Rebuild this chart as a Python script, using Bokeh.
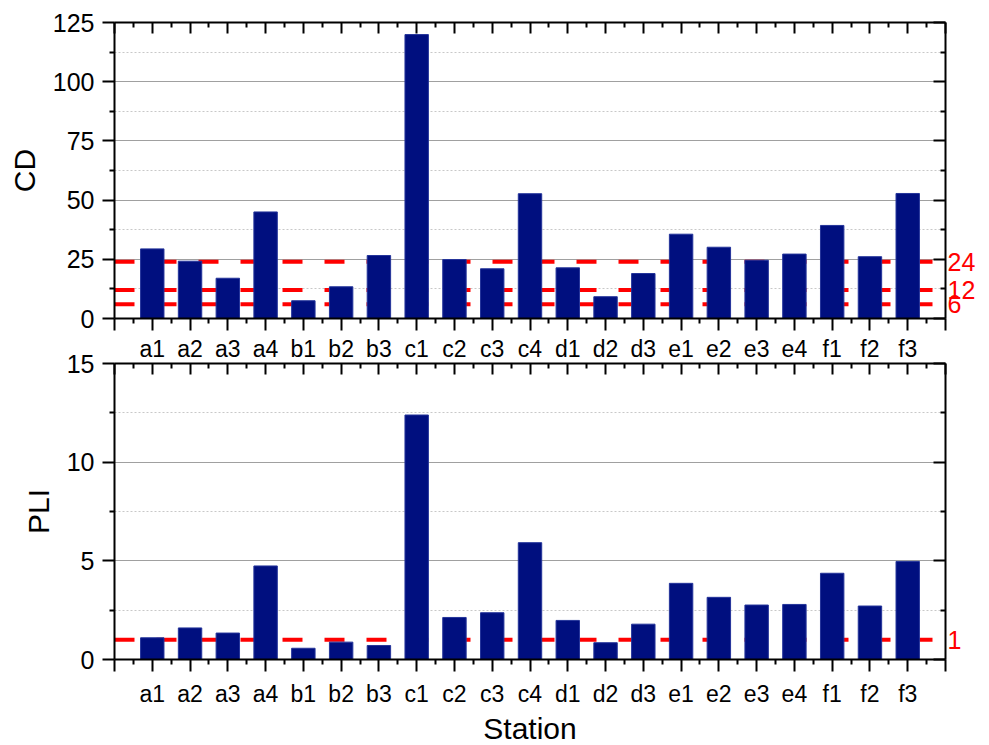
from bokeh.plotting import figure
from bokeh.models import (Range1d, FixedTicker, LinearAxis, Span, ColumnDataSource,
                          CustomLabelingPolicy)
from bokeh.layouts import column
from bokeh.embed import file_html
from bokeh.resources import INLINE

# Sampling stations and the two pollution indices
stations = ["a1", "a2", "a3", "a4", "b1", "b2", "b3", "c1", "c2", "c3", "c4",
            "d1", "d2", "d3", "e1", "e2", "e3", "e4", "f1", "f2", "f3"]
cd_values = [29.4, 24.2, 17.0, 45.0, 7.5, 13.4, 26.6, 119.9, 24.9, 21.0, 52.7,
             21.4, 9.2, 19.0, 35.6, 30.1, 24.6, 27.2, 39.3, 26.1, 52.8]
pli_values = [1.10, 1.60, 1.34, 4.74, 0.57, 0.88, 0.71, 12.39, 2.13, 2.37, 5.92,
              1.98, 0.85, 1.79, 3.86, 3.15, 2.76, 2.79, 4.37, 2.71, 4.97]

# Classification thresholds
cd_levels = [24, 12, 6]
pli_levels = [1]

cd_ticks = [0, 25, 50, 75, 100, 125]
pli_ticks = [0, 5, 10, 15]

FONT = "Liberation Sans"
BAR = "#000f7f"
TICK_FS = "25px"
CAT_FS = "23px"
TITLE_FS = "30px"

n = len(stations)
positions = list(range(1, n + 1))
x_major = list(range(0, n + 2))
x_minor = [i + 0.5 for i in range(0, n + 1)]
x_labels = {i + 1: s for i, s in enumerate(stations)}
x_labels[0] = ""
x_labels[n + 1] = ""


def base_axis(ax):
    ax.axis_line_width = 2
    ax.axis_line_color = "black"
    ax.major_tick_line_width = 2
    ax.minor_tick_line_width = 2
    ax.major_tick_line_color = "black"
    ax.minor_tick_line_color = "black"
    ax.major_label_text_font = FONT
    ax.major_label_text_color = "black"
    ax.axis_label_text_font = FONT
    ax.axis_label_text_font_style = "normal"
    ax.axis_label_text_color = "black"


def ticks(ax, out_major, in_major, out_minor, in_minor):
    ax.major_tick_out = out_major
    ax.major_tick_in = in_major
    ax.minor_tick_out = out_minor
    ax.minor_tick_in = in_minor


def hide_labels(ax):
    # tick marks only, no tick labels
    ax.major_label_text_font_size = "0px"
    ax.major_label_standoff = 0
    ax.major_label_policy = CustomLabelingPolicy(
        code="for (const i of indices) { indices.unset(i) } return indices")


def panel(values, levels, y_ticks, y_label, x_label, border_top, border_bottom,
          labels_above, labels_below):
    step = y_ticks[1] - y_ticks[0]
    y_minor = [t + step / 2 for t in y_ticks[:-1]]
    yt = FixedTicker(ticks=y_ticks, minor_ticks=y_minor)
    xt = FixedTicker(ticks=x_major, minor_ticks=x_minor)

    p = figure(frame_width=831, frame_height=296,
               min_border_left=114, min_border_right=44,
               min_border_top=border_top, min_border_bottom=border_bottom,
               x_range=Range1d(0, n + 1), y_range=Range1d(y_ticks[0], y_ticks[-1]),
               output_backend="svg", toolbar_location=None,
               outline_line_color=None, background_fill_color="white",
               border_fill_color="white")

    p.xgrid.visible = False
    p.ygrid.ticker = yt
    p.ygrid.grid_line_color = "#a0a0a0"
    p.ygrid.grid_line_width = 1
    p.ygrid.minor_grid_line_color = "#c8c8c8"
    p.ygrid.minor_grid_line_dash = "2 2"

    # threshold lines sit behind the bars
    for lv in levels:
        p.add_layout(Span(location=lv, dimension="width", line_color="red",
                          line_width=4, line_dash="20 22", level="underlay"))

    src = ColumnDataSource(dict(x=positions, top=values, name=stations))
    p.vbar(x="x", top="top", width=0.62, source=src, fill_color=BAR,
           line_color="#24349a", line_width=1)

    # left value axis
    yax = p.yaxis[0]
    base_axis(yax)
    yax.ticker = yt
    ticks(yax, 12, 0, 5, 0)
    yax.major_label_text_font_size = TICK_FS
    yax.major_label_standoff = 8
    yax.axis_label = y_label
    yax.axis_label_text_font_size = TITLE_FS
    yax.axis_label_standoff = 9

    # bottom station axis
    xax = p.xaxis[0]
    base_axis(xax)
    xax.ticker = xt
    ticks(xax, 12, 0, 5, 0)
    if labels_below:
        xax.major_label_overrides = x_labels
        xax.major_label_text_font_size = CAT_FS
        xax.major_label_standoff = 9
    else:
        hide_labels(xax)
    if x_label:
        xax.axis_label = x_label
        xax.axis_label_text_font_size = TITLE_FS
        xax.axis_label_standoff = 2

    # mirrored top axis; it can carry the station names of the panel above
    top_ax = LinearAxis(ticker=xt)
    base_axis(top_ax)
    ticks(top_ax, 0, 11, 0, 5)
    if labels_above:
        top_ax.major_label_overrides = x_labels
        top_ax.major_label_text_font_size = CAT_FS
        top_ax.major_label_standoff = 2
    else:
        hide_labels(top_ax)
    p.add_layout(top_ax, "above")

    # mirrored right axis
    right_ax = LinearAxis(ticker=yt)
    base_axis(right_ax)
    ticks(right_ax, 0, 12, 0, 5)
    hide_labels(right_ax)
    p.add_layout(right_ax, "right")

    # red threshold values beside the frame
    level_ax = LinearAxis(ticker=FixedTicker(ticks=levels, minor_ticks=[]))
    base_axis(level_ax)
    level_ax.axis_line_color = None
    level_ax.major_tick_line_color = None
    level_ax.minor_tick_line_color = None
    ticks(level_ax, 0, 0, 0, 0)
    level_ax.major_label_text_color = "red"
    level_ax.major_label_text_font_size = "25px"
    level_ax.major_label_standoff = 2
    p.add_layout(level_ax, "right")
    return p


p_cd = panel(cd_values, cd_levels, cd_ticks, "CD", None, 22, 14, False, False)
p_pli = panel(pli_values, pli_levels, pli_ticks, "PLI", "Station", 29, 88, True, True)

layout = column(p_cd, p_pli, spacing=0)

with open("out.html", "w") as f:
    f.write(file_html(layout, INLINE))
